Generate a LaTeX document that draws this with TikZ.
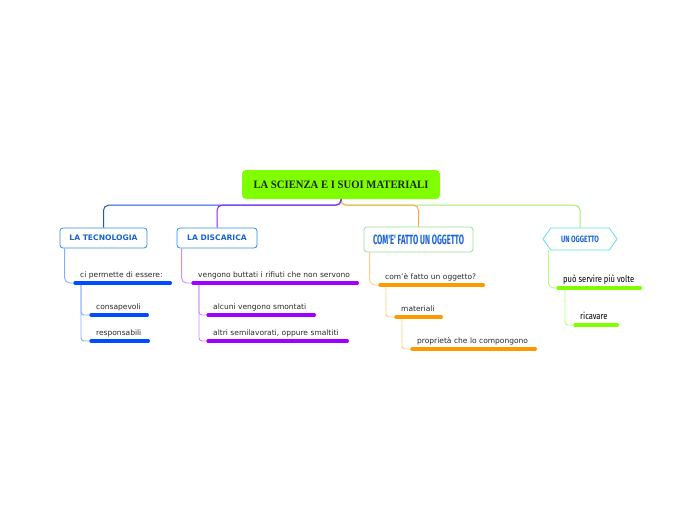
\documentclass[tikz,border=0pt]{standalone}
\usepackage{fontspec}
\usepackage{graphicx}
\setmainfont{DejaVu Sans}
\newfontfamily\rootfont{Liberation Serif}
\newfontfamily\comicfont{Fira Sans}
\usetikzlibrary{shapes.symbols,calc}
\definecolor{rootgreen}{RGB}{128,255,0}
\definecolor{roottext}{RGB}{25,40,10}
\definecolor{boxblue}{RGB}{50,140,230}
\definecolor{txtblue}{RGB}{25,100,210}
\definecolor{boxgreen}{RGB}{150,225,150}
\definecolor{boxcyan}{RGB}{100,225,230}
\definecolor{ulblue}{RGB}{0,76,255}
\definecolor{ulpurple}{RGB}{160,0,255}
\definecolor{ulorange}{RGB}{255,153,0}
\definecolor{ulgreen}{RGB}{128,255,0}
\definecolor{lnblue}{RGB}{140,170,255}
\definecolor{lnpurple}{RGB}{205,140,255}
\definecolor{lnorange}{RGB}{255,205,140}
\definecolor{lngreen}{RGB}{180,255,120}
\definecolor{topblue}{RGB}{30,80,220}
\definecolor{toppurple}{RGB}{140,30,255}
\definecolor{toporange}{RGB}{255,170,70}
\definecolor{topgreen}{RGB}{160,240,110}
\definecolor{itemtext}{RGB}{40,40,40}
\tikzset{
  rootbox/.style={draw=none, fill=rootgreen, rounded corners=4pt, minimum width=198pt, minimum height=29pt, inner sep=0pt, text=roottext},
  catbox/.style={draw=boxblue, line width=0.8pt, fill=white, rounded corners=3pt, minimum height=20pt, inner sep=0pt, text=txtblue, font=\bfseries\fontsize{7.6}{8}\selectfont},
  comebox/.style={draw=boxgreen, line width=0.8pt, fill=white, rounded corners=3pt, minimum width=109pt, minimum height=25pt, inner sep=0pt, text=txtblue},
  hexbox/.style={draw=boxcyan, line width=0.8pt, fill=white, shape=signal, signal to=east and west, signal pointer angle=110, minimum width=74pt, minimum height=22pt, inner sep=0pt, text=txtblue},
  item/.style={anchor=south west, inner xsep=5pt, inner ysep=4pt, text height=5.5pt, text depth=1.5pt, align=left, text=itemtext, font=\fontsize{7.5}{8}\selectfont},
  citem/.style={item, text=black, inner ysep=3pt, text height=7pt, text depth=2pt},
  ul/.style={line width=3.2pt, line cap=round},
  conn/.style={line width=0.9pt, rounded corners=5pt},
  topconn/.style={line width=1pt, rounded corners=5pt},
}
\begin{document}
\begin{tikzpicture}[x=1pt,y=-1pt]
\useasboundingbox[fill=white] (0,0) rectangle (697,520);

% main nodes
\node[rootbox] (root) at (341,184.5) {\resizebox{175pt}{7.5pt}{\rootfont\bfseries LA SCIENZA E I SUOI MATERIALI}};
\node[catbox, minimum width=87pt] (tec) at (103.5,238) {LA TECNOLOGIA};
\node[catbox, minimum width=80pt] (dis) at (217,238) {LA DISCARICA};
\node[comebox] (come) at (418.5,239.5) {\resizebox{91pt}{9.5pt}{\comicfont\bfseries COM'E' FATTO UN OGGETTO}};
\node[hexbox] (uo) at (580,239) {\resizebox{38pt}{6.5pt}{\comicfont\bfseries UN OGGETTO}};

% top connectors
\draw[topconn, topgreen] (root.south) -- ++(0,6) -| (uo.north);
\draw[topconn, toporange] (root.south) -- ++(0,6) -| (come.north);
\draw[topconn, topblue] (root.south) -- ++(0,6) -| (tec.north);
\draw[topconn, toppurple] (root.south) -- ++(0,6) -| (dis.north);

% tecnologia branch
\node[item, text width=85pt] (ci) at (75,283) {ci permette di essere:};
\node[item, text width=46pt] (cons) at (91,315) {consapevoli};
\node[item, text width=47pt] (resp) at (91,341) {responsabili};
\draw[conn, lnblue] ([xshift=5pt]tec.south west) |- (ci.south west);
\draw[conn, lnblue, rounded corners=3pt] ([xshift=6pt]ci.south west) |- (cons.south west);
\draw[conn, lnblue, rounded corners=3pt] ([xshift=6pt]ci.south west) |- (resp.south west);
\foreach \n in {ci,cons,resp} \draw[ul, ulblue] (\n.south west) -- (\n.south east);

% discarica branch
\node[item, text width=154pt] (veng) at (193,283) {vengono buttati i rifiuti che non servono};
\node[item, text width=96pt] (alc) at (208,315) {alcuni vengono smontati};
\node[item, text width=129pt] (altri) at (208,341) {altri semilavorati, oppure smaltiti};
\draw[conn, lnpurple] ([xshift=5pt]dis.south west) |- (veng.south west);
\draw[conn, lnpurple, rounded corners=3pt] ([xshift=6pt]veng.south west) |- (alc.south west);
\draw[conn, lnpurple, rounded corners=3pt] ([xshift=6pt]veng.south west) |- (altri.south west);
\foreach \n in {veng,alc,altri} \draw[ul, ulpurple] (\n.south west) -- (\n.south east);

% come branch
\node[item, text width=93pt] (cf) at (380,285) {com'è fatto un oggetto?};
\node[item, text width=35pt] (mat) at (396,317) {materiali};
\node[item, text width=113pt] (prop) at (412,349) {proprietà che lo compongono};
\draw[conn, lnorange] ([xshift=6pt]come.south west) |- (cf.south west);
\draw[conn, lnorange, rounded corners=3pt] ([xshift=6pt]cf.south west) |- (mat.south west);
\draw[conn, lnorange, rounded corners=3pt] ([xshift=6pt]mat.south west) |- (prop.south west);
\foreach \n in {cf,mat,prop} \draw[ul, ulorange] (\n.south west) -- (\n.south east);

% un oggetto branch
\node[citem, text width=72pt] (puo) at (558,288) {\scalebox{0.8}[1]{\comicfont\fontsize{9.5}{10}\selectfont può servire più volte}};
\node[citem, text width=32pt] (ric) at (575,325) {\scalebox{0.8}[1]{\comicfont\fontsize{9.5}{10}\selectfont ricavare}};
\coordinate (uoc) at ($(uo.west)+(6,11)$);
\draw[conn, lngreen] (uoc) |- (puo.south west);
\draw[conn, lngreen, rounded corners=3pt] ([xshift=7pt]puo.south west) |- (ric.south west);
\foreach \n in {puo,ric} \draw[ul, ulgreen] (\n.south west) -- (\n.south east);
\end{tikzpicture}
\end{document}
